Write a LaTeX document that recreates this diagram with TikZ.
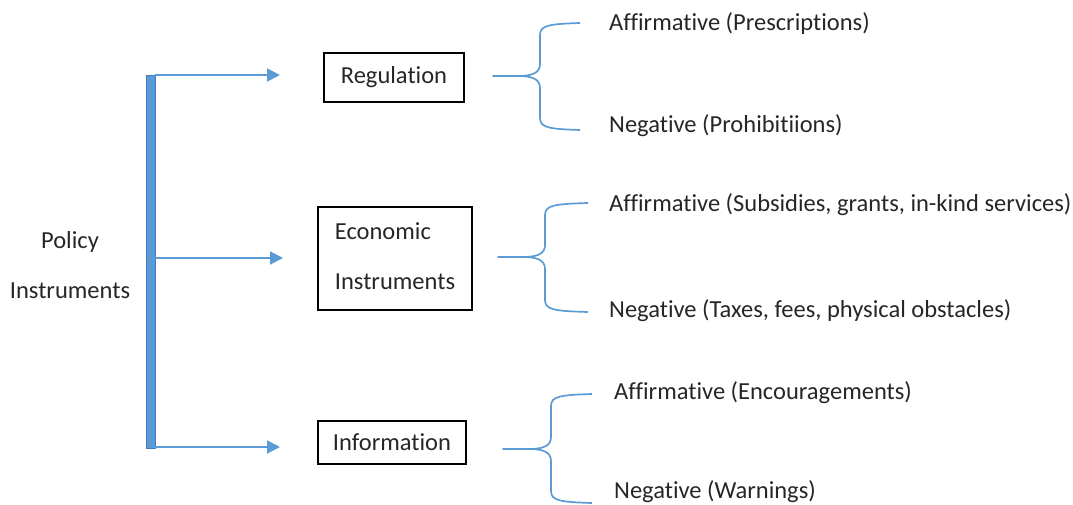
\documentclass[tikz,border=0pt]{standalone}
\usepackage{fontspec}
\setmainfont[Ligatures={NoCommon}]{Carlito}
\usetikzlibrary{arrows.meta}
\definecolor{wordblue}{RGB}{91,155,213}
\definecolor{barblue}{RGB}{65,125,190}

\begin{document}
\begin{tikzpicture}[x=1pt, y=-1pt,
    every node/.style={font=\fontsize{24.5}{29}\selectfont, text=black!85},
    box/.style={draw=black, line width=1.4pt, inner sep=0pt},
    arr/.style={wordblue, line width=2pt, -{Triangle[length=13pt, width=13pt]}},
    brc/.style={wordblue, line width=1.7pt, line join=round},
    lbl/.style={anchor=west, inner sep=0pt}]

\useasboundingbox (0,0) rectangle (1073,504);

% =============================================
% Tronco: Policy Instruments
% =============================================
\node[align=center, inner sep=0pt] (pol) at (70,265) {Policy\\[21pt]Instruments};
\node[fill=wordblue, draw=barblue, line width=0.8pt, inner sep=0pt,
      minimum width=9pt, minimum height=373pt] (bar) at (150.5,261.5) {};

% =============================================
% Cajas de instrumentos
% =============================================
\node[box, minimum width=140pt, minimum height=49pt] (reg) at (394,77.5) {Regulation};
\node[box, minimum width=154pt, minimum height=103pt, align=left] (eco) at (395,258.5)
    {Economic\\[21pt]Instruments\\[-25pt]};
\node[box, minimum width=148pt, minimum height=43pt] (inf) at (392,442.5) {Information};

% Flechas desde el tronco (la punta queda antes de la caja)
\coordinate (t1) at (280,75);
\coordinate (t2) at (283,258);
\coordinate (t3) at (280,447);
\draw[arr] (bar.east |- t1) -- (t1);
\draw[arr] (bar.east |- t2) -- (t2);
\draw[arr] (bar.east |- t3) -- (t3);

% =============================================
% Llaves y ramas afirmativa / negativa
% =============================================
\foreach \tx/\ty/\vx/\ya/\yb/\ex in {493/76/540/23/130/580,
                                     498/257/545/203/312/588,
                                     503/449/551/394/503/592}
    \draw[brc] (\ex,\ya) .. controls (\vx+10,\ya+1) and (\vx,\ya+2) .. (\vx,\ya+12)
        -- (\vx,\ty-12) .. controls (\vx,\ty-3) and (\vx-8,\ty) .. (\vx-22,\ty)
        -- (\tx,\ty) -- (\vx-22,\ty)
        .. controls (\vx-8,\ty) and (\vx,\ty+3) .. (\vx,\ty+12)
        -- (\vx,\yb-12) .. controls (\vx,\yb-2) and (\vx+10,\yb-1) .. (\ex,\yb);

\node[lbl] (aff1) at (609,24)  {Affirmative (Prescriptions)};
\node[lbl] (neg1) at (609,126) {Negative (Prohibitiions)};
\node[lbl] (aff2) at (609,205) {Affirmative (Subsidies, grants, in-kind services)};
\node[lbl] (neg2) at (609,311) {Negative (Taxes, fees, physical obstacles)};
\node[lbl] (aff3) at (614,393) {Affirmative (Encouragements)};
\node[lbl] (neg3) at (614,492) {Negative (Warnings)};

\end{tikzpicture}
\end{document}
